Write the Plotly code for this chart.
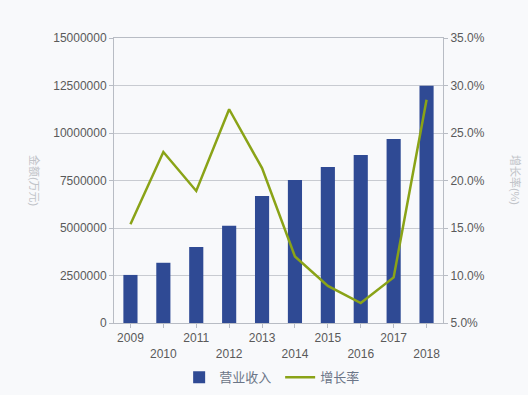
import plotly.graph_objects as go

years = ["2009", "2010", "2011", "2012", "2013", "2014", "2015", "2016", "2017", "2018"]
revenue = [2530000, 3170000, 4000000, 5120000, 6680000, 7530000, 8210000, 8840000, 9680000, 12490000]
growth = [0.154, 0.230, 0.189, 0.275, 0.213, 0.120, 0.089, 0.071, 0.098, 0.285]
tick_labels = [y if i % 2 == 0 else "<br>" + y for i, y in enumerate(years)]
left_ticks = [0, 2500000, 5000000, 7500000, 10000000, 12500000, 15000000]
right_ticks = [0.05, 0.10, 0.15, 0.20, 0.25, 0.30, 0.35]

FONT = "Liberation Sans, Arial, Noto Sans CJK SC, sans-serif"
BG = "#f8f9fb"
AXIS = "#b8bcc4"

fig = go.Figure()
fig.add_trace(go.Bar(
    x=years, y=revenue, name="营业收入",
    marker=dict(color="#2f4a94", line=dict(width=0)),
    yaxis="y",
))
fig.add_trace(go.Scatter(
    x=years, y=growth, name="增长率", mode="lines",
    line=dict(color="#8aa317", width=2.5),
    yaxis="y2",
))

fig.update_layout(
    width=528, height=395,
    margin=dict(l=114, r=85, t=38, b=72),
    paper_bgcolor=BG, plot_bgcolor=BG,
    font=dict(family=FONT, size=12, color="#5a5a5a"),
    bargap=0.57,
    showlegend=True,
    legend=dict(orientation="h", x=0.505, xanchor="center",
                yref="container", y=0.045, yanchor="middle",
                font=dict(size=13, color="#6b7587"), itemwidth=30,
                entrywidth=56, entrywidthmode="pixels",
                traceorder="normal", bgcolor="rgba(0,0,0,0)"),
    xaxis=dict(
        type="category", tickmode="array", tickvals=years, ticktext=tick_labels,
        showline=True, linecolor=AXIS, linewidth=1, mirror=True,
        ticks="outside", ticklen=4, tickcolor=AXIS, automargin=False,
        showgrid=False, tickfont=dict(size=12, color="#5a5a5a"),
    ),
    yaxis=dict(
        range=[0, 15000000], tickmode="array", tickvals=left_ticks,
        ticktext=[str(v) for v in left_ticks],
        showline=True, linecolor=AXIS, linewidth=1,
        ticks="outside", ticklen=4, tickcolor=AXIS, automargin=False,
        showgrid=True, gridcolor="#c8cbd1", gridwidth=1,
        zeroline=False, tickfont=dict(size=12, color="#5a5a5a"),
    ),
    yaxis2=dict(
        range=[0.05, 0.35], tickmode="array", tickvals=right_ticks, tickformat=".1%",
        overlaying="y", side="right",
        showline=True, linecolor=AXIS, linewidth=1,
        ticks="outside", ticklen=4, tickcolor=AXIS, automargin=False,
        showgrid=False, zeroline=False, tickfont=dict(size=12, color="#5a5a5a"),
    ),
    annotations=[
        dict(text="金额(万元)", xref="paper", yref="paper", x=-0.243, y=0.502,
             xanchor="center", yanchor="middle", textangle=90, showarrow=False,
             font=dict(size=11, color="#c0c3c8")),
        dict(text="增长率(%)", xref="paper", yref="paper", x=1.219, y=0.502,
             xanchor="center", yanchor="middle", textangle=90, showarrow=False,
             font=dict(size=11, color="#c0c3c8")),
    ],
)

fig.write_html(
    "out.html",
    config={"displayModeBar": False},
    post_script="document.body.style.margin='0';document.body.style.background='#f8f9fb';",
)
